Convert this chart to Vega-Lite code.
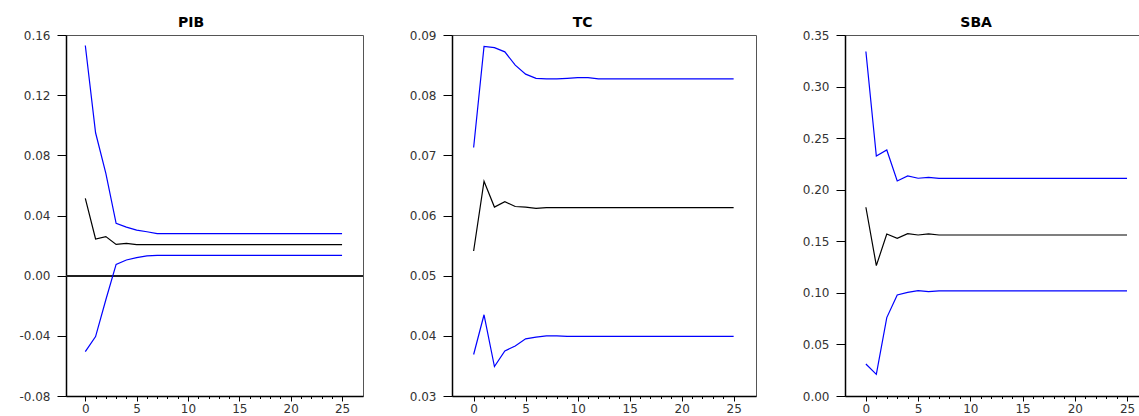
{
"$schema": "https://vega.github.io/schema/vega-lite/v6.json",
"padding": {"left": 18, "top": 15, "right": 0, "bottom": 0},
"bounds": "flush",
"spacing": 89,
"config": {
  "view": {"stroke": "#555", "strokeWidth": 1},
  "font": "DejaVu Sans",
  "axis": {"labelFont": "DejaVu Sans", "labelFontSize": 12, "labelColor": "#333", "domainColor": "#000", "tickColor": "#000", "grid": false, "title": null},
  "axisY": {"tickSize": 9, "labelPadding": 7, "domainWidth": 1.5},
  "axisX": {"labelPadding": 2, "domainWidth": 1.5, "labelFlush": false},
  "title": {"font": "DejaVu Sans", "fontSize": 14, "fontWeight": "bold", "color": "#000", "anchor": "middle", "frame": "bounds", "offset": -1}
},
"datasets": {
  "pib": [
    {"h":0,"up":0.153,"r":0.0514,"lo":-0.0505},
    {"h":1,"up":0.095,"r":0.0244,"lo":-0.0405},
    {"h":2,"up":0.068,"r":0.026,"lo":-0.016},
    {"h":3,"up":0.0348,"r":0.0208,"lo":0.0075},
    {"h":4,"up":0.0323,"r":0.0215,"lo":0.0104},
    {"h":5,"up":0.0303,"r":0.0206,"lo":0.012},
    {"h":6,"up":0.0292,"r":0.0206,"lo":0.0131},
    {"h":7,"up":0.0279,"r":0.0206,"lo":0.0135},
    {"h":8,"up":0.0279,"r":0.0206,"lo":0.0135},
    {"h":9,"up":0.0279,"r":0.0206,"lo":0.0135},
    {"h":10,"up":0.0279,"r":0.0206,"lo":0.0135},
    {"h":11,"up":0.0279,"r":0.0206,"lo":0.0135},
    {"h":12,"up":0.0279,"r":0.0206,"lo":0.0135},
    {"h":13,"up":0.0279,"r":0.0206,"lo":0.0135},
    {"h":14,"up":0.0279,"r":0.0206,"lo":0.0135},
    {"h":15,"up":0.0279,"r":0.0206,"lo":0.0135},
    {"h":16,"up":0.0279,"r":0.0206,"lo":0.0135},
    {"h":17,"up":0.0279,"r":0.0206,"lo":0.0135},
    {"h":18,"up":0.0279,"r":0.0206,"lo":0.0135},
    {"h":19,"up":0.0279,"r":0.0206,"lo":0.0135},
    {"h":20,"up":0.0279,"r":0.0206,"lo":0.0135},
    {"h":21,"up":0.0279,"r":0.0206,"lo":0.0135},
    {"h":22,"up":0.0279,"r":0.0206,"lo":0.0135},
    {"h":23,"up":0.0279,"r":0.0206,"lo":0.0135},
    {"h":24,"up":0.0279,"r":0.0206,"lo":0.0135},
    {"h":25,"up":0.0279,"r":0.0206,"lo":0.0135}
  ],
  "tc": [
    {"h":0,"up":0.0713,"r":0.0541,"lo":0.0369},
    {"h":1,"up":0.0881,"r":0.0657,"lo":0.0435},
    {"h":2,"up":0.0879,"r":0.0614,"lo":0.0349},
    {"h":3,"up":0.0872,"r":0.0623,"lo":0.0375},
    {"h":4,"up":0.085,"r":0.0615,"lo":0.0383},
    {"h":5,"up":0.0835,"r":0.0614,"lo":0.0395},
    {"h":6,"up":0.0828,"r":0.0612,"lo":0.0398},
    {"h":7,"up":0.0827,"r":0.0613,"lo":0.04},
    {"h":8,"up":0.0827,"r":0.0613,"lo":0.04},
    {"h":9,"up":0.0828,"r":0.0613,"lo":0.0399},
    {"h":10,"up":0.0829,"r":0.0613,"lo":0.0399},
    {"h":11,"up":0.0829,"r":0.0613,"lo":0.0399},
    {"h":12,"up":0.0827,"r":0.0613,"lo":0.0399},
    {"h":13,"up":0.0827,"r":0.0613,"lo":0.0399},
    {"h":14,"up":0.0827,"r":0.0613,"lo":0.0399},
    {"h":15,"up":0.0827,"r":0.0613,"lo":0.0399},
    {"h":16,"up":0.0827,"r":0.0613,"lo":0.0399},
    {"h":17,"up":0.0827,"r":0.0613,"lo":0.0399},
    {"h":18,"up":0.0827,"r":0.0613,"lo":0.0399},
    {"h":19,"up":0.0827,"r":0.0613,"lo":0.0399},
    {"h":20,"up":0.0827,"r":0.0613,"lo":0.0399},
    {"h":21,"up":0.0827,"r":0.0613,"lo":0.0399},
    {"h":22,"up":0.0827,"r":0.0613,"lo":0.0399},
    {"h":23,"up":0.0827,"r":0.0613,"lo":0.0399},
    {"h":24,"up":0.0827,"r":0.0613,"lo":0.0399},
    {"h":25,"up":0.0827,"r":0.0613,"lo":0.0399}
  ],
  "sba": [
    {"h":0,"up":0.334,"r":0.183,"lo":0.031},
    {"h":1,"up":0.2327,"r":0.1264,"lo":0.021},
    {"h":2,"up":0.2385,"r":0.1571,"lo":0.076},
    {"h":3,"up":0.2085,"r":0.1529,"lo":0.098},
    {"h":4,"up":0.2133,"r":0.1574,"lo":0.1005},
    {"h":5,"up":0.2111,"r":0.1561,"lo":0.1021},
    {"h":6,"up":0.212,"r":0.1571,"lo":0.1012},
    {"h":7,"up":0.211,"r":0.1561,"lo":0.102},
    {"h":8,"up":0.211,"r":0.1561,"lo":0.102},
    {"h":9,"up":0.211,"r":0.1561,"lo":0.102},
    {"h":10,"up":0.211,"r":0.1561,"lo":0.102},
    {"h":11,"up":0.211,"r":0.1561,"lo":0.102},
    {"h":12,"up":0.211,"r":0.1561,"lo":0.102},
    {"h":13,"up":0.211,"r":0.1561,"lo":0.102},
    {"h":14,"up":0.211,"r":0.1561,"lo":0.102},
    {"h":15,"up":0.211,"r":0.1561,"lo":0.102},
    {"h":16,"up":0.211,"r":0.1561,"lo":0.102},
    {"h":17,"up":0.211,"r":0.1561,"lo":0.102},
    {"h":18,"up":0.211,"r":0.1561,"lo":0.102},
    {"h":19,"up":0.211,"r":0.1561,"lo":0.102},
    {"h":20,"up":0.211,"r":0.1561,"lo":0.102},
    {"h":21,"up":0.211,"r":0.1561,"lo":0.102},
    {"h":22,"up":0.211,"r":0.1561,"lo":0.102},
    {"h":23,"up":0.211,"r":0.1561,"lo":0.102},
    {"h":24,"up":0.211,"r":0.1561,"lo":0.102},
    {"h":25,"up":0.211,"r":0.1561,"lo":0.102}
  ]
},
"hconcat": [
  {
    "title": "PIB",
    "width": 297, "height": 361,
    "data": {"name": "pib"},
    "transform": [{"fold": ["up", "r", "lo"], "as": ["s", "v"]}],
    "layer": [
      {"mark": {"type": "rule", "color": "#222", "strokeWidth": 0.8}, "encoding": {"y": {"datum": 0, "type": "quantitative"}}},
      {"mark": {"type": "line", "strokeWidth": 1.2},
       "encoding": {
         "x": {"field": "h", "type": "quantitative", "scale": {"domain": [-1.88, 27.04], "nice": false, "zero": false},
               "axis": {"values": [0,1,2,3,4,5,6,7,8,9,10,11,12,13,14,15,16,17,18,19,20,21,22,23,24,25], "labelExpr": "datum.value % 5 === 0 ? datum.label : ''", "tickSize": {"condition": {"test": "datum.value % 5 === 0", "value": 5}, "value": 2.5}}},
         "y": {"field": "v", "type": "quantitative", "scale": {"domain": [-0.08, 0.16], "nice": false, "zero": false},
               "axis": {"values": [-0.08,-0.04,0,0.04,0.08,0.12,0.16], "format": ".2f", "labelExpr": "replace(datum.label, '\u2212', '-')"}},
         "color": {"field": "s", "type": "nominal", "scale": {"domain": ["up", "r", "lo"], "range": ["#0000ff", "#000000", "#0000ff"]}, "legend": null}
       }}
    ]
  },
  {
    "title": "TC",
    "width": 304, "height": 361,
    "data": {"name": "tc"},
    "transform": [{"fold": ["up", "r", "lo"], "as": ["s", "v"]}],
    "mark": {"type": "line", "strokeWidth": 1.2},
    "encoding": {
      "x": {"field": "h", "type": "quantitative", "scale": {"domain": [-2.08, 27.15], "nice": false, "zero": false},
            "axis": {"values": [0,1,2,3,4,5,6,7,8,9,10,11,12,13,14,15,16,17,18,19,20,21,22,23,24,25], "labelExpr": "datum.value % 5 === 0 ? datum.label : ''", "tickSize": {"condition": {"test": "datum.value % 5 === 0", "value": 5}, "value": 2.5}}},
      "y": {"field": "v", "type": "quantitative", "scale": {"domain": [0.03, 0.09], "nice": false, "zero": false},
            "axis": {"values": [0.03,0.04,0.05,0.06,0.07,0.08,0.09], "format": ".2f"}},
      "color": {"field": "s", "type": "nominal", "scale": {"domain": ["up", "r", "lo"], "range": ["#0000ff", "#000000", "#0000ff"]}, "legend": null}
    }
  },
  {
    "title": "SBA",
    "width": 305, "height": 361,
    "data": {"name": "sba"},
    "transform": [{"fold": ["up", "r", "lo"], "as": ["s", "v"]}],
    "mark": {"type": "line", "strokeWidth": 1.2},
    "encoding": {
      "x": {"field": "h", "type": "quantitative", "scale": {"domain": [-2.0, 27.2], "nice": false, "zero": false},
            "axis": {"values": [0,1,2,3,4,5,6,7,8,9,10,11,12,13,14,15,16,17,18,19,20,21,22,23,24,25], "labelExpr": "datum.value % 5 === 0 ? datum.label : ''", "tickSize": {"condition": {"test": "datum.value % 5 === 0", "value": 5}, "value": 2.5}}},
      "y": {"field": "v", "type": "quantitative", "scale": {"domain": [0, 0.35], "nice": false, "zero": false},
            "axis": {"values": [0,0.05,0.1,0.15,0.2,0.25,0.3,0.35], "format": ".2f"}},
      "color": {"field": "s", "type": "nominal", "scale": {"domain": ["up", "r", "lo"], "range": ["#0000ff", "#000000", "#0000ff"]}, "legend": null}
    }
  }
]
}
